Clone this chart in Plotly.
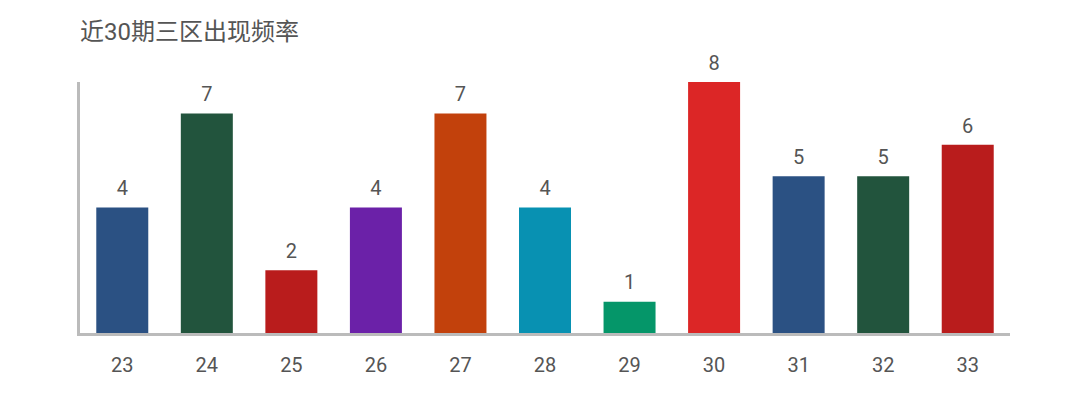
"""Bar chart: frequency of zone-3 numbers over the last 30 draws."""

import plotly.graph_objects as go

numbers = ["23", "24", "25", "26", "27", "28", "29", "30", "31", "32", "33"]
counts = [4, 7, 2, 4, 7, 4, 1, 8, 5, 5, 6]
bar_colors = [
    "#2b5183", "#22543d", "#b91c1c", "#6b21a8", "#c2410c", "#0891b2",
    "#059669", "#dc2626", "#2b5183", "#22543d", "#b91c1c",
]

_FONT = "Roboto, 'Noto Sans CJK SC', sans-serif"

fig = go.Figure()
fig.add_trace(go.Bar(
    x=numbers,
    y=counts,
    marker=dict(color=bar_colors, line_width=0),
    hovertemplate="%{x}: %{y}<extra></extra>",
))
# value labels: invisible markers push the text up off the bar top
fig.add_trace(go.Scatter(
    x=numbers,
    y=counts,
    mode="markers+text",
    text=[str(c) for c in counts],
    textposition="top center",
    textfont=dict(family=_FONT, size=20, color="#555555"),
    marker=dict(size=10, color="rgba(0,0,0,0)"),
    cliponaxis=False,
    hoverinfo="skip",
))

fig.update_layout(
    width=1078, height=419,
    paper_bgcolor="white",
    plot_bgcolor="white",
    bargap=0.385,
    showlegend=False,
    margin=dict(l=72, r=76, t=74, b=94),
    title=dict(
        text="近30期三区出现频率",
        x=0, xref="paper", xanchor="left",
        y=0.943, yanchor="middle",
        font=dict(family=_FONT, size=24, color="#555555"),
    ),
)
fig.update_xaxes(
    type="category", range=[-0.5, 10.5],
    showline=True, linecolor="#bbbbbb", linewidth=2.5,
    showgrid=False, ticks="", ticklabelstandoff=12,
    tickfont=dict(family=_FONT, size=20, color="#555555"),
)
fig.update_yaxes(
    range=[0, 8], showline=True, linecolor="#bbbbbb", linewidth=2.5,
    showgrid=False, zeroline=False, showticklabels=False, ticks="",
)

fig.write_html("out.html")
